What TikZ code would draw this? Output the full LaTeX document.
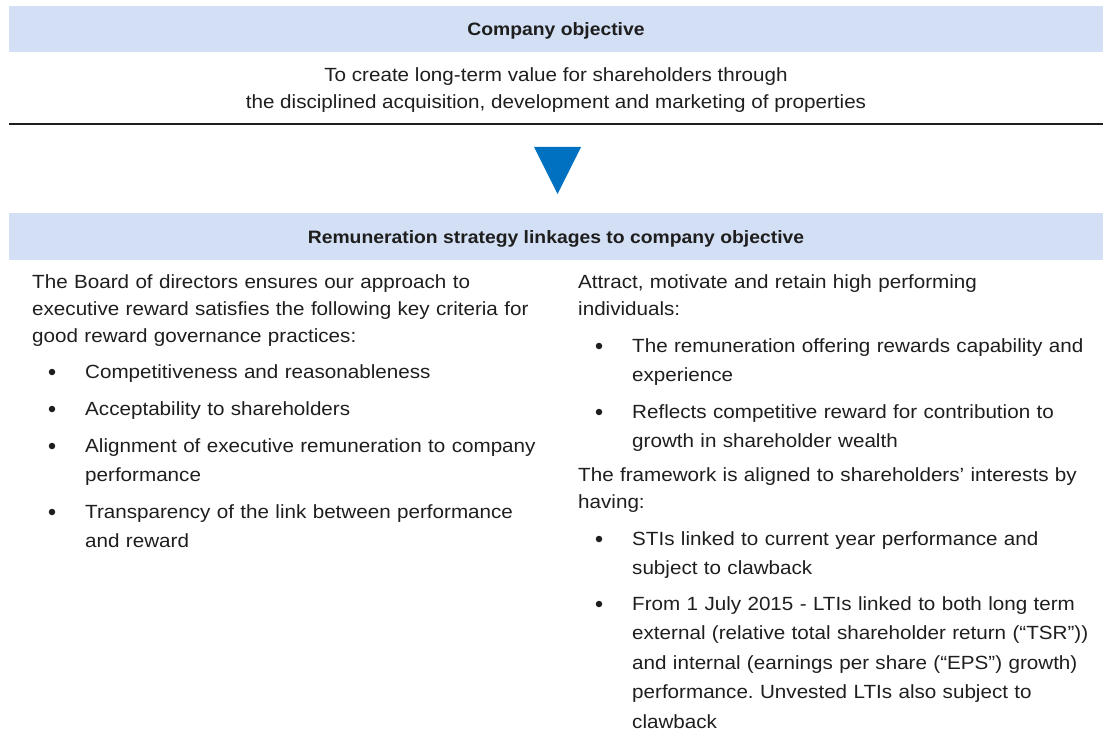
\documentclass[tikz,border=0pt]{standalone}
\usepackage{fontspec}
\setmainfont{Liberation Sans}[FakeStretch=1.08]
\usetikzlibrary{positioning}

\definecolor{barblue}{HTML}{D3DFF4}
\definecolor{tipblue}{HTML}{0070C0}
\definecolor{ink}{HTML}{1E1E1E}

\tikzset{
	headbar/.style = {fill = barblue, minimum width = 1094, minimum height = 46, inner sep = 0, font = \fontsize{17.9}{22}\selectfont\bfseries, text = ink},
	para/.style = {anchor = north west, inner sep = 0, align = left, text = ink, font = \fontsize{19.1}{27}\selectfont},
	item/.style = {para, font = \fontsize{19.1}{29.5}\selectfont},
	dot/.style = {circle, fill = ink, inner sep = 0, minimum size = 6.5}
}

\begin{document}
\frenchspacing
\begin{tikzpicture}[x = 1pt, y = -1pt]
	\useasboundingbox (0, 0) rectangle (1103, 738);

	% company objective
	\fill[barblue] (9, 6) rectangle (1103, 52);
	\node[headbar, fill = none] (objhead) at (556, 31) {Company objective};
	\node[para, anchor = center, align = center] (objtext) at (556, 90)
		{To create long-term value for shareholders through\\the disciplined acquisition, development and marketing of properties};
	\draw[line width = 2, ink] (9, 124) -- (1103, 124);

	\fill[tipblue] (534, 147) -- (581, 147) -- (557.5, 194) -- cycle;

	% remuneration strategy
	\fill[barblue] (9, 213) rectangle (1103, 260);
	\node[headbar, fill = none] (remhead) at (556, 238.5) {Remuneration strategy linkages to company objective};

	% left column
	\node[para, text width = 500] (board) at (32, 269)
		{\strut The Board of directors ensures our approach to\\executive reward satisfies the following key criteria for\\good reward governance practices:};
	\foreach \y/\name/\txt in {
		372/compet/{Competitiveness and reasonableness},
		409/accept/{Acceptability to shareholders},
		446/align/{Alignment of executive remuneration to company\\performance},
		512/transp/{Transparency of the link between performance\\and reward}} {
		\node[dot] (\name dot) at (52, \y) {};
		\node[item, text width = 470] (\name) at (85, \y - 14.6) {\strut\txt};
	}

	% right column
	\node[para, text width = 520] (attract) at (578, 269)
		{\strut Attract, motivate and retain high performing\\individuals:};
	\node[para, text width = 520] (frame) at (578, 462)
		{\strut The framework is aligned to shareholders’ interests by\\having:};
	\foreach \y/\name/\txt in {
		346/offer/{The remuneration offering rewards capability and\\experience},
		412/reflect/{Reflects competitive reward for contribution to\\growth in shareholder wealth},
		539/sti/{STIs linked to current year performance and\\subject to clawback},
		604/lti/{From 1 July 2015 - LTIs linked to both long term\\external (relative total shareholder return (“TSR”))\\and internal (earnings per share (“EPS”) growth)\\performance. Unvested LTIs also subject to\\clawback}} {
		\node[dot] (\name dot) at (599, \y) {};
		\node[item, text width = 470] (\name) at (632, \y - 14.6) {\strut\txt};
	}
\end{tikzpicture}
\end{document}
